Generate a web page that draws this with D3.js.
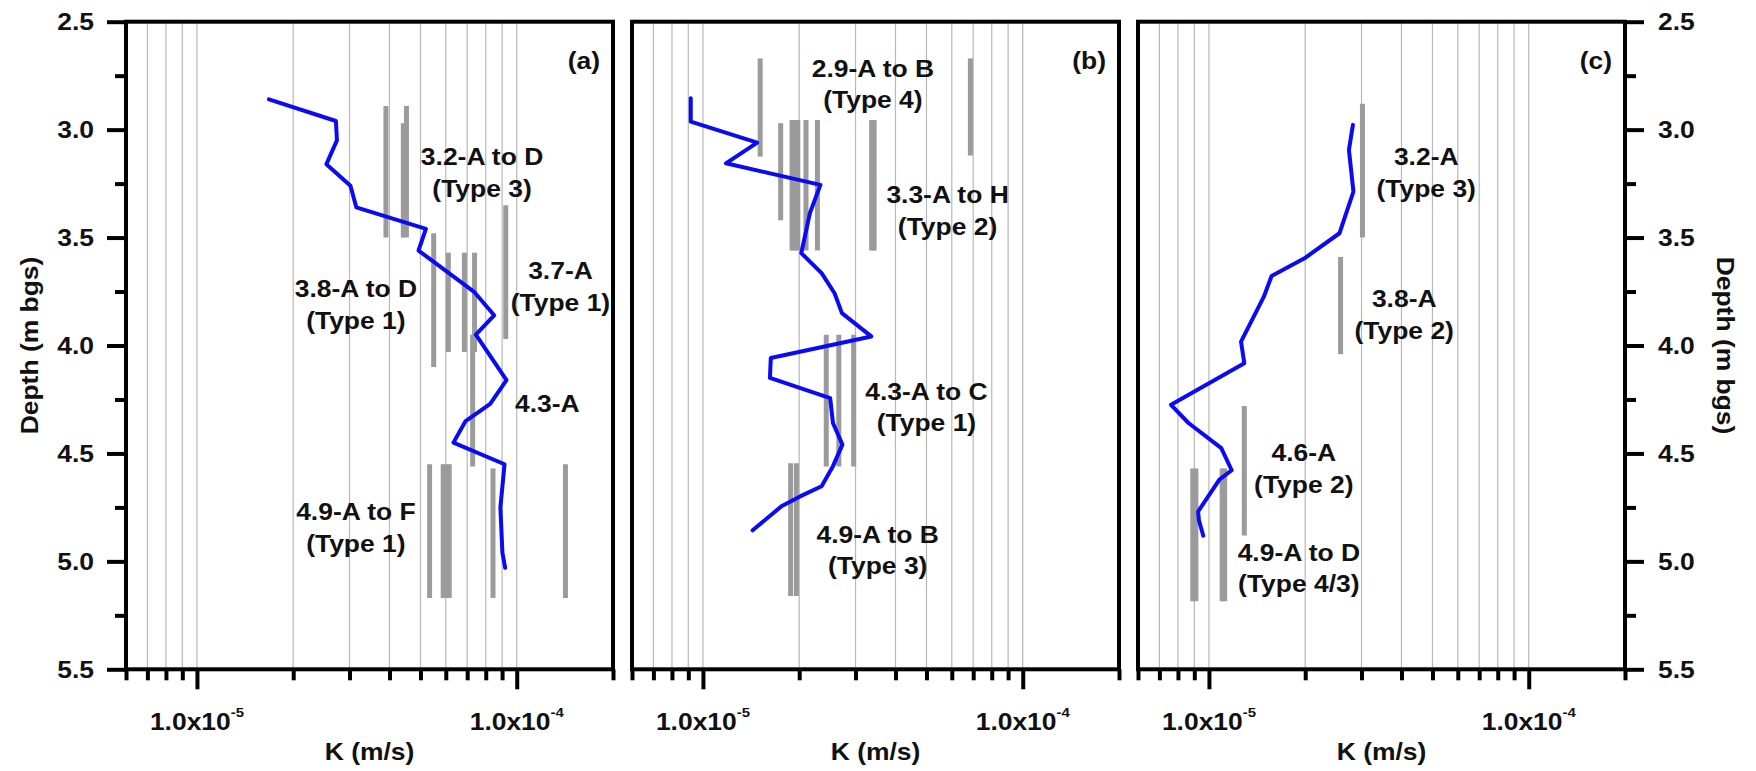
<!DOCTYPE html>
<html><head><meta charset="utf-8">
<script src="https://cdn.jsdelivr.net/npm/d3@7"></script>
<style>
body{margin:0;background:#fff}
svg{display:block}
text{font-family:"Liberation Sans",Arial,Helvetica,sans-serif;font-weight:bold;fill:#111}
</style>
</head><body>
<svg id="chart" width="1756" height="771"></svg>
<script>
// ---------------- DATA ----------------
const panelNames = ["(a)", "(b)", "(c)"];
const kDomain = [6e-6, 2e-4];
const depthDomain = [2.5, 5.5];
const depthTickLabels = [2.5, 3.0, 3.5, 4.0, 4.5, 5.0, 5.5];
const kMajorTicks = [1e-5, 1e-4];
const kMajorLabels = [["1.0x10", "-5"], ["1.0x10", "-4"]];
const xTitle = "K (m/s)";
const yTitle = "Depth (m bgs)";

// Blue K profiles
const depthA = [2.86, 2.96, 3.05, 3.16, 3.26, 3.36, 3.46, 3.56, 3.75, 3.86, 3.95, 4.16, 4.27, 4.35, 4.45, 4.55, 4.75, 4.96, 5.03];
const kA = [1.68e-5, 2.72e-5, 2.74e-5, 2.54e-5, 3.02e-5, 3.15e-5, 5.2e-5, 4.93e-5, 7.34e-5, 8.5e-5, 7.45e-5, 9.29e-5, 8.26e-5, 6.92e-5, 6.34e-5, 9.16e-5, 8.89e-5, 9.02e-5, 9.2e-5];

const depthB = [2.855, 2.963, 3.06, 3.156, 3.256, 3.387, 3.572, 3.665, 3.758, 3.85, 3.958, 4.058, 4.15, 4.244, 4.359, 4.459, 4.559, 4.652, 4.698, 4.745, 4.856];
const kB = [9.16e-6, 9.16e-6, 1.478e-5, 1.18e-5, 2.33e-5, 2.16e-5, 2.03e-5, 2.35e-5, 2.58e-5, 2.72e-5, 3.36e-5, 1.63e-5, 1.62e-5, 2.5e-5, 2.55e-5, 2.73e-5, 2.55e-5, 2.35e-5, 2.02e-5, 1.76e-5, 1.43e-5];

const depthC = [2.978, 3.094, 3.287, 3.48, 3.596, 3.678, 3.774, 3.982, 4.082, 4.275, 4.359, 4.475, 4.578, 4.621, 4.769, 4.808, 4.881];
const kC = [2.82e-5, 2.74e-5, 2.83e-5, 2.56e-5, 1.99e-5, 1.57e-5, 1.485e-5, 1.26e-5, 1.29e-5, 7.61e-6, 8.63e-6, 1.093e-5, 1.178e-5, 1.078e-5, 9.25e-6, 9.3e-6, 9.6e-6];

// Grey specimen bars: K, top depth, bottom depth
const barKA   = [3.9e-5, 4.42e-5, 4.52e-5, 9.24e-5, 5.5e-5, 6.11e-5, 6.86e-5, 7.38e-5, 7.28e-5, 5.34e-5, 5.89e-5, 6.02e-5, 6.15e-5, 8.43e-5, 1.42e-4];
const barTopA = [2.89, 2.97, 2.89, 3.35, 3.48, 3.57, 3.57, 3.57, 3.95, 4.55, 4.55, 4.55, 4.55, 4.57, 4.55];
const barBotA = [3.50, 3.50, 3.50, 3.97, 4.10, 4.03, 4.03, 4.03, 4.56, 5.17, 5.17, 5.17, 5.17, 5.17, 5.17];

const barKB   = [1.51e-5, 6.86e-5, 1.75e-5, 1.90e-5, 1.94e-5, 1.98e-5, 2.10e-5, 2.28e-5, 3.37e-5, 3.43e-5, 2.43e-5, 2.66e-5, 2.96e-5, 1.88e-5, 1.96e-5];
const barTopB = [2.67, 2.67, 2.97, 2.955, 2.955, 2.955, 2.955, 2.955, 2.955, 2.955, 3.95, 3.95, 3.95, 4.545, 4.545];
const barBotB = [3.125, 3.12, 3.42, 3.56, 3.56, 3.56, 3.56, 3.56, 3.56, 3.56, 4.56, 4.56, 4.56, 5.16, 5.16];

const barKC   = [3.02e-5, 2.58e-5, 1.29e-5, 8.9e-6, 9.1e-6, 1.10e-5, 1.12e-5];
const barTopC = [2.88, 3.59, 4.28, 4.57, 4.57, 4.57, 4.57];
const barBotC = [3.50, 4.04, 4.88, 5.185, 5.185, 5.185, 5.185];

// Annotations: text, anchor K, anchor depth
const noteTextA = ["3.2-A to D", "(Type 3)", "3.7-A", "(Type 1)", "3.8-A to D", "(Type 1)", "4.3-A", "4.9-A to F", "(Type 1)"];
const noteKA    = [7.79e-5, 7.79e-5, 1.37e-4, 1.37e-4, 3.14e-5, 3.14e-5, 1.247e-4, 3.14e-5, 3.14e-5];
const noteDepthA= [3.127, 3.274, 3.653, 3.80, 3.738, 3.885, 4.268, 4.771, 4.918];

const noteTextB = ["2.9-A to B", "(Type 4)", "3.3-A to H", "(Type 2)", "4.3-A to C", "(Type 1)", "4.9-A to B", "(Type 3)"];
const noteKB    = [3.40e-5, 3.40e-5, 5.82e-5, 5.82e-5, 5.0e-5, 5.0e-5, 3.52e-5, 3.52e-5];
const noteDepthB= [2.716, 2.863, 3.302, 3.449, 4.213, 4.359, 4.876, 5.022];

const noteTextC = ["3.2-A", "(Type 3)", "3.8-A", "(Type 2)", "4.6-A", "(Type 2)", "4.9-A to D", "(Type 4/3)"];
const noteKC    = [4.78e-5, 4.78e-5, 4.08e-5, 4.08e-5, 1.98e-5, 1.98e-5, 1.91e-5, 1.91e-5];
const noteDepthC= [3.125, 3.272, 3.785, 3.932, 4.498, 4.645, 4.961, 5.103];

// ---------------- LAYOUT ----------------
const panelX = [126, 632, 1138];
const panelW = 487;
const plotTop = 21.7, plotBottom = 669.3;
const SX = 1.15;          // horizontal stretch of lettering in the original figure
const FS = 23;            // font size

const profiles = [
  {k: kA, d: depthA, bk: barKA, bt: barTopA, bb: barBotA, nt: noteTextA, nk: noteKA, nd: noteDepthA},
  {k: kB, d: depthB, bk: barKB, bt: barTopB, bb: barBotB, nt: noteTextB, nk: noteKB, nd: noteDepthB},
  {k: kC, d: depthC, bk: barKC, bt: barTopC, bb: barBotC, nt: noteTextC, nk: noteKC, nd: noteDepthC}
];

const svg = d3.select("#chart");
const y = d3.scaleLinear().domain(depthDomain).range([plotTop, plotBottom]);
const tr = (px, py, rot) => `translate(${px},${py})` + (rot ? ` rotate(${rot})` : "") + ` scale(${SX},1)`;

profiles.forEach((p, i) => {
  const x = d3.scaleLog().domain(kDomain).range([panelX[i], panelX[i] + panelW]);
  const g = svg.append("g");
  const allTicks = x.ticks().filter(v => v >= kDomain[0] * 0.999 && v <= kDomain[1] * 1.001);
  const isMajor = v => kMajorTicks.some(m => Math.abs(v / m - 1) < 1e-6);

  // grid lines
  g.append("g").selectAll("line")
    .data(allTicks.filter(v => v > kDomain[0] * 1.001 && v < kDomain[1] * 0.999))
    .join("line")
    .attr("x1", d => x(d)).attr("x2", d => x(d))
    .attr("y1", plotTop).attr("y2", plotBottom)
    .attr("stroke", "#b8b8b8").attr("stroke-width", 1.2);

  // grey bars
  g.append("g").selectAll("line")
    .data(p.bk.map((k, j) => ({k, t: p.bt[j], b: p.bb[j]})))
    .join("line")
    .attr("x1", d => x(d.k)).attr("x2", d => x(d.k))
    .attr("y1", d => y(d.t)).attr("y2", d => y(d.b))
    .attr("stroke", "#9b9b9b").attr("stroke-width", 5);

  // blue profile
  const line = d3.line().x(d => x(d[0])).y(d => y(d[1]));
  g.append("path")
    .datum(p.k.map((k, j) => [k, p.d[j]]))
    .attr("d", line)
    .attr("fill", "none").attr("stroke", "#0a0af5").attr("stroke-width", 4)
    .attr("stroke-linejoin", "round").attr("stroke-linecap", "round");

  // annotations
  g.append("g").selectAll("text")
    .data(p.nt.map((t, j) => ({t, k: p.nk[j], d: p.nd[j]})))
    .join("text")
    .attr("transform", d => tr(x(d.k), y(d.d)))
    .attr("dy", "0.36em")
    .attr("text-anchor", "middle")
    .style("font-size", FS + "px")
    .text(d => d.t);

  // bottom axis
  const ax = g.append("g").attr("transform", `translate(0,${plotBottom})`)
    .call(d3.axisBottom(x).tickValues(allTicks).tickFormat("").tickSizeOuter(0));
  ax.select(".domain").remove();
  ax.selectAll(".tick line")
    .attr("stroke", "#000").attr("stroke-width", 4)
    .attr("y2", d => isMajor(d) ? 20 : 11);

  // major labels with superscript
  kMajorTicks.forEach((m, j) => {
    const t = g.append("text")
      .attr("transform", tr(x(m), 730))
      .attr("text-anchor", "middle")
      .style("font-size", FS + "px");
    t.append("tspan").text(kMajorLabels[j][0]);
    t.append("tspan").attr("dy", -13).style("font-size", "13px").text(kMajorLabels[j][1]);
  });

  // x title
  g.append("text")
    .attr("transform", tr(panelX[i] + panelW / 2, 760))
    .attr("text-anchor", "middle")
    .style("font-size", FS + "px")
    .text(xTitle);

  // border
  g.append("rect")
    .attr("x", panelX[i]).attr("y", plotTop)
    .attr("width", panelW).attr("height", plotBottom - plotTop)
    .attr("fill", "none").attr("stroke", "#000").attr("stroke-width", 4);

  // panel label
  g.append("text")
    .attr("transform", tr(panelX[i] + panelW - 13, 69))
    .attr("text-anchor", "end")
    .style("font-size", FS + "px")
    .text(panelNames[i]);
});

// y axes
const depthTicksAll = d3.range(depthDomain[0], depthDomain[1] + 0.001, 0.25);
const isMajorDepth = v => depthTickLabels.some(m => Math.abs(v - m) < 1e-6);

const yl = svg.append("g").attr("transform", `translate(${panelX[0]},0)`)
  .call(d3.axisLeft(y).tickValues(depthTicksAll).tickFormat("").tickSizeOuter(0));
yl.select(".domain").remove();
yl.selectAll(".tick line").attr("stroke", "#000").attr("stroke-width", 4)
  .attr("x2", d => isMajorDepth(d) ? -19 : -11);
yl.selectAll(".lab").data(depthTickLabels).join("text")
  .attr("transform", d => tr(-32, y(d)))
  .attr("dy", "0.36em")
  .attr("text-anchor", "end").style("font-size", FS + "px")
  .text(d => d.toFixed(1));

const rightX = panelX[2] + panelW;
const yr = svg.append("g").attr("transform", `translate(${rightX},0)`)
  .call(d3.axisRight(y).tickValues(depthTicksAll).tickFormat("").tickSizeOuter(0));
yr.select(".domain").remove();
yr.selectAll(".tick line").attr("stroke", "#000").attr("stroke-width", 4)
  .attr("x2", d => isMajorDepth(d) ? 19 : 11);
yr.selectAll(".lab").data(depthTickLabels).join("text")
  .attr("transform", d => tr(33, y(d)))
  .attr("dy", "0.36em")
  .attr("text-anchor", "start").style("font-size", FS + "px")
  .text(d => d.toFixed(1));

// y titles
const midY = (plotTop + plotBottom) / 2;
svg.append("text")
  .attr("transform", tr(38, midY, -90))
  .attr("text-anchor", "middle").style("font-size", FS + "px")
  .text(yTitle);
svg.append("text")
  .attr("transform", tr(1717, midY, 90))
  .attr("text-anchor", "middle").style("font-size", FS + "px")
  .text(yTitle);
</script>
</body></html>
